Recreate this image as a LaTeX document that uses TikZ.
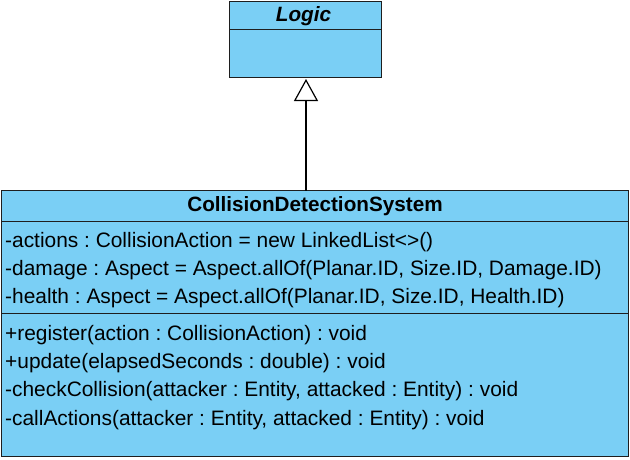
\documentclass[tikz,border=0pt]{standalone}
\usepackage{fontspec}
\setmainfont{Liberation Sans}
\usetikzlibrary{arrows.meta}
\definecolor{umlfill}{RGB}{122,207,245}
\definecolor{umlline}{RGB}{30,30,30}
\tikzset{
  umlbox/.style={draw=umlline, fill=umlfill, line width=1.2pt},
  sepline/.style={draw=umlline, line width=1.2pt},
  member/.style={anchor=base west, inner sep=0pt, font=\fontsize{20.9}{24}\selectfont\frenchspacing},
  titletext/.style={anchor=base, inner sep=0pt, font=\fontsize{20.7}{24}\selectfont\bfseries},
  genarrow/.style={draw=black, line width=1.2pt, -{Triangle[open, length=22pt, width=24pt, fill=white]}}
}
\begin{document}
\begin{tikzpicture}[x=1pt,y=-1pt]
\useasboundingbox (0,0) rectangle (630,459);
% Logic class
\path[umlbox] (229.5,1.5) rectangle (381.5,77.5);
\draw[sepline] (229.5,29.5) -- (381.5,29.5);
\node[titletext, font=\fontsize{20.7}{24}\selectfont\bfseries\itshape] (logictitle) at (303.5,21.5) {Logic};
\coordinate (logicbottom) at (306,79);
% CollisionDetectionSystem class
\path[umlbox] (1.5,190.5) rectangle (628.5,456.5);
\draw[sepline] (1.5,221.5) -- (628.5,221.5);
\draw[sepline] (1.5,313.5) -- (628.5,313.5);
\node[titletext] (cdstitle) at (315,211.5) {CollisionDetectionSystem};
\coordinate (cdstop) at (306,190.5);
\node[member] (a1) at (5,247) {-actions : CollisionAction = new LinkedList<>()};
\node[member] (a2) at (5,275) {-damage : Aspect = Aspect.allOf(Planar.ID, Size.ID, Damage.ID)};
\node[member] (a3) at (5,303) {-health : Aspect = Aspect.allOf(Planar.ID, Size.ID, Health.ID)};
\node[member] (m1) at (5,340) {+register(action : CollisionAction) : void};
\node[member] (m2) at (5,368.3) {+update(elapsedSeconds : double) : void};
\node[member] (m3) at (5,396.7) {-checkCollision(attacker : Entity, attacked : Entity) : void};
\node[member] (m4) at (5,425) {-callActions(attacker : Entity, attacked : Entity) : void};
% generalization
\draw[genarrow] (cdstop) -- (logicbottom);
\end{tikzpicture}
\end{document}
